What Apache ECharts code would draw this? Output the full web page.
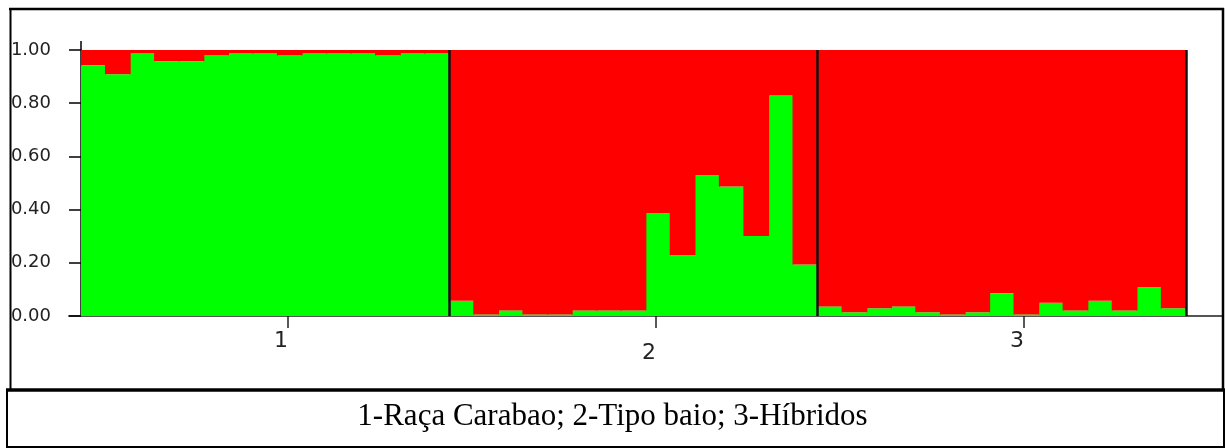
<!DOCTYPE html>
<html>
<head>
<meta charset="utf-8">
<script src="https://cdn.jsdelivr.net/npm/echarts@6/dist/echarts.min.js"></script>
<style>html,body{margin:0;padding:0;background:#fff}#c{width:1225px;height:448px}</style>
</head>
<body>
<div id="c"></div>
<script>
// ---- data ----
const individuals = Array.from({length: 45}, (_, i) => String(i + 1));
const greenCluster = [
  0.943,0.909,0.987,0.958,0.958,0.980,0.987,0.987,0.980,0.987,0.987,0.987,0.980,0.987,0.987,
  0.057,0.006,0.021,0.006,0.006,0.021,0.021,0.021,0.386,0.229,0.530,0.487,0.301,0.829,0.194,
  0.036,0.014,0.029,0.036,0.014,0.006,0.014,0.086,0.006,0.050,0.021,0.057,0.021,0.108,0.029
];
const redCluster = [
  0.057,0.091,0.013,0.042,0.042,0.020,0.013,0.013,0.020,0.013,0.013,0.013,0.020,0.013,0.013,
  0.943,0.994,0.979,0.994,0.994,0.979,0.979,0.979,0.614,0.771,0.470,0.513,0.699,0.171,0.806,
  0.964,0.986,0.971,0.964,0.986,0.994,0.986,0.914,0.994,0.950,0.979,0.943,0.979,0.892,0.971
];
const groupLabels = ['1', '2', '3'];
const groupSizes = [15, 15, 15];
const groupTickPositions = [8.43, 23.42, 38.4];
const caption = '1-Raça Carabao; 2-Tipo baio; 3-Híbridos';

// ---- layout ----
const plotLeft = 81, plotRight = 1186, plotTop = 50, plotBottom = 316;
const W = 1225, H = 448;
const nBars = individuals.length;
const pxPerBar = (plotRight - plotLeft) / nBars;
const axisLeft = 69, axisRight = 1222;
const boundaries = [];
groupSizes.reduce((acc, s) => { boundaries.push(acc + s); return acc + s; }, 0);

const chart = echarts.init(document.getElementById('c'), null, {renderer: 'canvas'});
chart.setOption({
  animation: false,
  backgroundColor: '#fff',
  title: {
    text: caption, left: 'center', top: 401, padding: 0,
    textStyle: {fontFamily: 'Liberation Serif', fontSize: 31, fontWeight: 'normal', color: '#000', lineHeight: 32}
  },
  grid: [
    {left: plotLeft, right: W - plotRight, top: plotTop, bottom: H - plotBottom},
    {left: axisLeft, right: W - axisRight, top: plotTop, bottom: H - plotBottom}
  ],
  xAxis: [
    {type: 'category', gridIndex: 0, data: individuals, show: false, boundaryGap: true},
    {
      type: 'value', gridIndex: 1,
      min: -(plotLeft - axisLeft) / pxPerBar,
      max: nBars + (axisRight - plotRight) / pxPerBar,
      splitLine: {show: false},
      axisLine: {show: true, lineStyle: {color: '#555', width: 2}},
      axisTick: {show: true, length: 12, inside: false, customValues: groupTickPositions,
        lineStyle: {color: '#222', width: 1.5}},
      axisLabel: {
        show: true, customValues: groupTickPositions, margin: 19,
        fontFamily: 'DejaVu Sans', fontSize: 22, lineHeight: 12, color: '#222',
        padding: [0, 14, 0, 0],
        formatter: function (v) {
          let idx = groupTickPositions.findIndex(p => Math.abs(p - v) < 1e-6);
          if (idx < 0) return '';
          return idx === 1 ? '\n' + groupLabels[idx] : groupLabels[idx];
        }
      }
    }
  ],
  yAxis: [
    {
      type: 'value', gridIndex: 0, min: 0, max: 1, interval: 0.2,
      splitLine: {show: false},
      axisLine: {show: true, lineStyle: {color: '#000', width: 1.5}},
      axisTick: {show: true, length: 12, inside: false, lineStyle: {color: '#000', width: 1.5}},
      axisLabel: {margin: 30, fontFamily: 'DejaVu Sans', fontSize: 18, color: '#222',
        formatter: v => v.toFixed(2)}
    },
    {type: 'value', gridIndex: 1, min: 0, max: 1, show: false}
  ],
  series: [
    {type: 'bar', name: 'cluster1', xAxisIndex: 0, yAxisIndex: 0, stack: 'q',
      data: greenCluster, barWidth: pxPerBar + 1.2, barGap: '-100%',
      itemStyle: {color: '#00ff00'}},
    {type: 'bar', name: 'cluster2', xAxisIndex: 0, yAxisIndex: 0, stack: 'q',
      data: redCluster, barWidth: pxPerBar + 1.2, barGap: '-100%',
      itemStyle: {color: '#ff0000'}},
    {type: 'line', xAxisIndex: 1, yAxisIndex: 1, data: [], z: 10,
      markLine: {
        silent: true, symbol: ['none', 'none'], label: {show: false},
        lineStyle: {color: '#111', width: 2.5, type: 'solid'},
        data: boundaries.map(b => ({xAxis: b}))
      }}
  ],
  graphic: [
    {type: 'line', z: 100, shape: {x1: plotLeft, y1: 41, x2: plotLeft, y2: plotTop}, style: {stroke: '#000', lineWidth: 1.5}},
    {type: 'line', z: 100, shape: {x1: 9, y1: 9, x2: 1224, y2: 9}, style: {stroke: '#000', lineWidth: 2.5}},
    {type: 'line', z: 100, shape: {x1: 10.5, y1: 8, x2: 10.5, y2: 391}, style: {stroke: '#000', lineWidth: 2}},
    {type: 'line', z: 100, shape: {x1: 1223, y1: 8, x2: 1223, y2: 391}, style: {stroke: '#000', lineWidth: 2.5}},
    {type: 'line', z: 100, shape: {x1: 6, y1: 390, x2: 1225, y2: 390}, style: {stroke: '#000', lineWidth: 3.5}},
    {type: 'line', z: 100, shape: {x1: 7, y1: 389, x2: 7, y2: 448}, style: {stroke: '#000', lineWidth: 2}},
    {type: 'line', z: 100, shape: {x1: 1224, y1: 389, x2: 1224, y2: 448}, style: {stroke: '#000', lineWidth: 2}},
    {type: 'line', z: 100, shape: {x1: 6, y1: 447, x2: 1225, y2: 447}, style: {stroke: '#000', lineWidth: 2}}
  ]
});
</script>
</body>
</html>
